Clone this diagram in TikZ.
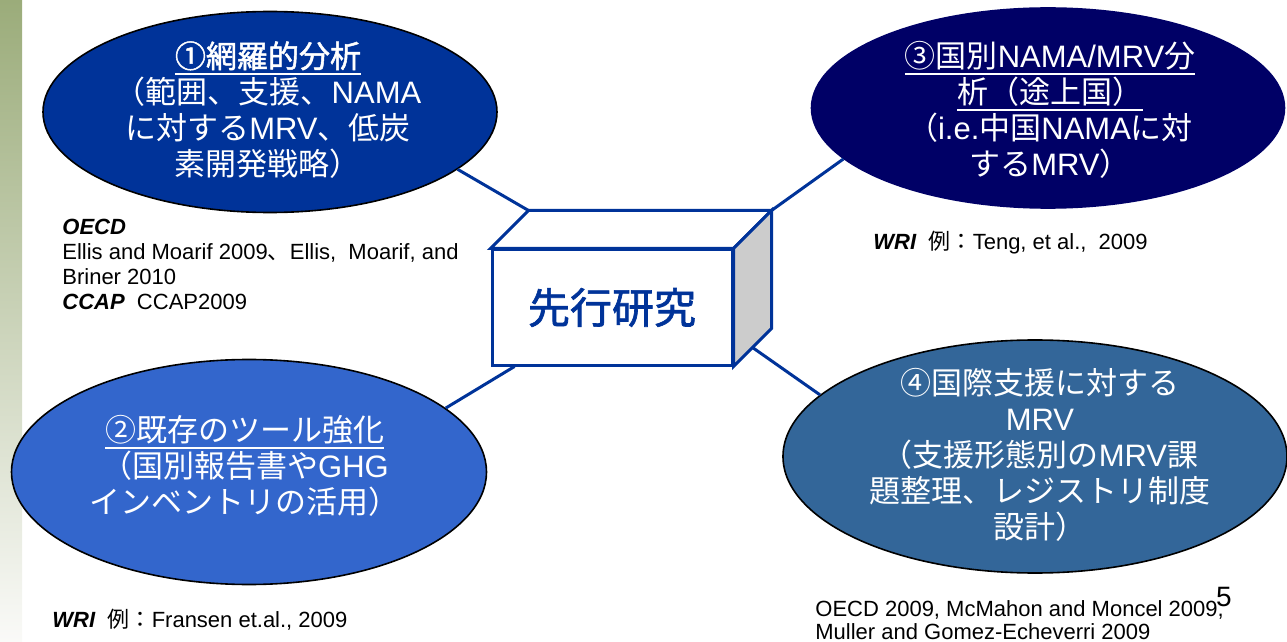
\documentclass[tikz,border=0pt]{standalone}
\usepackage{fontspec}
\setmainfont{Liberation Sans}
\newfontfamily\jp{Noto Sans CJK JP}
\newfontfamily\jpb{Noto Sans CJK JP}[FakeBold=1.6]
\usetikzlibrary{shapes.geometric,calc}
\newcommand\J[1]{{\jp #1}}
\newcommand\JB[1]{{\jpb #1}}
\newcommand\myul[1]{\setbox0\hbox{#1}\rlap{\rule[-3.5pt]{\wd0}{0.9pt}}\box0}
\definecolor{eA}{HTML}{003399}
\definecolor{eB}{HTML}{3366CC}
\definecolor{eC}{HTML}{000066}
\definecolor{eD}{HTML}{336699}
\definecolor{sidegray}{HTML}{CCCCCC}
\tikzset{
  bubble/.style={ellipse, inner sep=0pt, line width=0.8pt},
  bubbletext/.style={align=center, text=white, inner sep=0pt, font=\fontsize{15.5}{18}\selectfont},
  conn/.style={draw=eA, line width=1.5pt},
  boxline/.style={draw=eA, line width=1.5pt},
  ref/.style={align=left, anchor=west, inner sep=0pt, font=\fontsize{11}{12.5}\selectfont}
}
\begin{document}
\begin{tikzpicture}[x=0.5pt,y=-0.5pt]
\useasboundingbox (0,0) rectangle (1287,642);
% left strip
\shade[top color={rgb,255:red,155;green,172;blue,122}, middle color={rgb,255:red,222;green,227;blue,212}, bottom color={rgb,255:red,250;green,250;blue,248}] (0,0) rectangle (22,642);

% ellipses
\node[bubble, draw=black, fill=eA, minimum width=227pt, minimum height=100.5pt] (e1) at (270,112) {};
\node[bubble, draw=eC, fill=eC, minimum width=236.5pt, minimum height=100pt] (e3) at (1048,108) {};
\node[bubble, draw=black, fill=eB, minimum width=237.5pt, minimum height=112.5pt] (e2) at (249,472) {};
\node[bubble, draw=black, fill=eD, minimum width=252pt, minimum height=116.5pt] (e4) at (1035,456.5) {};

\node[bubbletext] (t1) at (268,110) {\myul{\JB{①網羅的分析}}\\
\J{（範囲、支援、}NAMA\\
\J{に対する}MRV\J{、低炭}\\
\J{素開発戦略）}};
\node[bubbletext] (t3) at (1050,110) {\myul{\J{③国別}NAMA/MRV\J{分}}\\
\myul{\J{析（途上国）}}\\
\J{（}i.e.\J{中国}NAMA\J{に対}\\
\J{する}MRV\J{）}};
\node[bubbletext] (t2) at (245,466) {\myul{\J{②既存のツール強化}}\\
\J{（国別報告書や}GHG\\
\J{インベントリの活用）}};
\node[bubbletext] (t4) at (1040,455) {\J{④国際支援に対する}\\
MRV\\
\J{（支援形態別の}MRV\J{課}\\
\J{題整理、レジストリ制度}\\
\J{設計）}};

% central box (front face)
\node[boxline, fill=white, minimum width=120pt, minimum height=57.5pt, inner sep=0pt,
      text=eA, font=\fontsize{21}{24}\selectfont] (box) at (612,307.5) {\JB{先行研究}};
\coordinate (btl) at ($(box.north west)+(38,-38)$);
\coordinate (btr) at ($(box.north east)+(38,-38)$);
\coordinate (bbr) at ($(box.south east)+(38,-38)$);
\coordinate (c2end) at ($(box.south west)+(24,0)$);
\coordinate (c4end) at ($(box.south east)!0.5!(bbr)$);

% connectors
\draw[conn] (e1.-17) -- (btl);
\draw[conn] (e3.194) -- (btr);
\draw[conn] (e2.18) -- (c2end);
\draw[conn] (e4.164) -- (c4end);

% box faces
\draw[boxline, fill=white] (box.north west) -- (btl) -- (btr) -- (box.north east) -- cycle;
\draw[boxline, fill=sidegray] (box.north east) -- (btr) -- (bbr) -- (box.south east) -- cycle;

% references
\node[ref] (r1) at (62,264) {\textbf{\textit{OECD}}\\
Ellis and Moarif 2009\J{、}Ellis,~~Moarif, and\\
Briner 2010\\
\textbf{\textit{CCAP}}~~CCAP2009};
\node[ref] (r3) at (873,243) {\textbf{\textit{WRI}}~~\J{例：}Teng, et al.,~~2009};
\node[ref] (r2) at (52,620) {\textbf{\textit{WRI}}~~\J{例：}Fransen et.al., 2009};
\node[ref, font=\fontsize{11}{11.5}\selectfont] (r4) at (815,620.5) {OECD 2009, McMahon and Moncel 2009,\\
Muller and Gomez-Echeverri 2009};
\node[inner sep=0pt, font=\fontsize{14}{16}\selectfont] (pg) at (1224,597) {5};
\end{tikzpicture}
\end{document}
